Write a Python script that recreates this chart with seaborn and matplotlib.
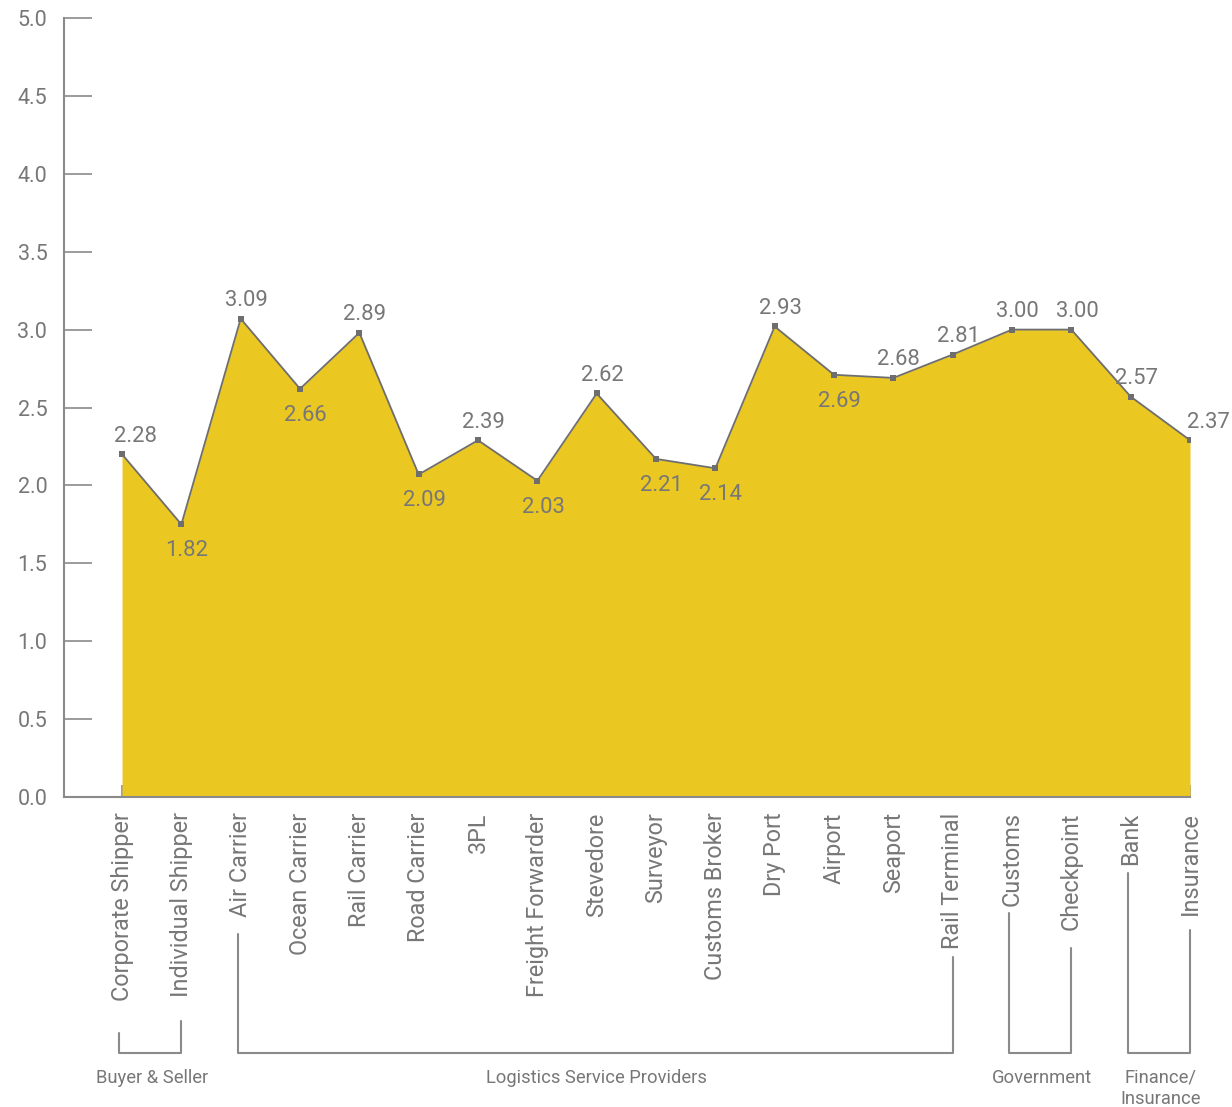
"""
plot.py - Stakeholder score profile (area chart with grouped category brackets)
"""

import matplotlib
matplotlib.use("Agg")
import matplotlib.pyplot as plt
import matplotlib.transforms as mtransforms
import numpy as np
import pandas as pd
import seaborn as sns

# Data
stakeholders = [
    "Corporate Shipper", "Individual Shipper", "Air Carrier", "Ocean Carrier",
    "Rail Carrier", "Road Carrier", "3PL", "Freight Forwarder", "Stevedore",
    "Surveyor", "Customs Broker", "Dry Port", "Airport", "Seaport",
    "Rail Terminal", "Customs", "Checkpoint", "Bank", "Insurance",
]
# plotted heights of the points
scores = [2.20, 1.75, 3.07, 2.62, 2.98, 2.07, 2.29, 2.03, 2.59, 2.17,
          2.11, 3.02, 2.71, 2.69, 2.84, 3.00, 3.00, 2.57, 2.29]
# the printed value labels
score_labels = ["2.28", "1.82", "3.09", "2.66", "2.89", "2.09", "2.39", "2.03",
                "2.62", "2.21", "2.14", "2.93", "2.69", "2.68", "2.81", "3.00",
                "3.00", "2.57", "2.37"]
# label placed above (True) or below (False) the point
label_above = [True, False, True, False, True, False, True, False, True, False,
               False, True, False, True, True, True, True, True, True]

group_names = ["Buyer & Seller", "Logistics Service Providers", "Government", "Finance/\nInsurance"]
group_first = [0, 2, 15, 17]
group_last = [1, 14, 16, 18]

# Styling
FILL = "#EBC722"
LINE = "#6E6E6E"
GREY = "#8A8A8A"
TEXT = "#777777"
W, H = 1232, 1107

sns.set_theme(style="white")
plt.rcParams["font.family"] = ["Roboto", "DejaVu Sans"]

df = pd.DataFrame({"pos": np.arange(len(stakeholders)), "score": scores})

fig = plt.figure(figsize=(W / 100, H / 100), dpi=100)
ax = fig.add_axes([64 / W, 1 - 797 / H, (1190 - 64) / W, 779 / H])

ax.fill_between(df["pos"], 0, df["score"], color=FILL, linewidth=0, zorder=1)
sns.lineplot(data=df, x="pos", y="score", ax=ax, color=LINE, linewidth=1.3,
             marker="s", markersize=5, markeredgewidth=0, zorder=3)

ax.set_xlim(-0.978, len(stakeholders) - 1)
ax.set_ylim(0, 5)
ax.set_xlabel("")
ax.set_ylabel("")

yt = np.arange(0, 5.01, 0.5)
ax.set_yticks(yt)
ax.set_yticklabels([f"{v:.1f}" for v in yt])
ax.set_xticks(df["pos"])
ax.set_xticklabels(stakeholders, rotation=90)

ax.tick_params(axis="y", direction="in", length=20, width=1.2, color=GREY,
               labelsize=15.5, labelcolor=TEXT, pad=12, left=True)
ax.tick_params(axis="x", direction="in", length=8.5, width=1.2, color=GREY,
               labelsize=16.8, labelcolor=TEXT, pad=11, bottom=True)

for side in ["top", "right"]:
    ax.spines[side].set_visible(False)
for side in ["left", "bottom"]:
    ax.spines[side].set_color(GREY)
    ax.spines[side].set_linewidth(1.5)

# value labels
n = len(stakeholders)
for i, (v, txt, up) in enumerate(zip(scores, score_labels, label_above)):
    dx = 4
    if i == 0:
        dx = 10
    elif i == n - 1:
        dx = 13
    dy = 13 if up else -19
    ax.annotate(txt, (i, v), xytext=(dx, dy), textcoords="offset points",
                ha="center", va="center", fontsize=15.8, color=TEXT, zorder=4)

# group brackets under the tick labels
trans = mtransforms.blended_transform_factory(ax.transData, fig.transFigure)
line_tops = {0: 1033, 1: 1021, 2: 934, 14: 957, 15: 913, 16: 948, 17: 873, 18: 930}
bracket_y = 1 - 1053 / H
for name, a, b in zip(group_names, group_first, group_last):
    xa, xb = a - 0.05, b
    ax.plot([xa, xa, xb, xb],
            [1 - line_tops[a] / H, bracket_y, bracket_y, 1 - line_tops[b] / H],
            transform=trans, color=GREY, linewidth=1.5, clip_on=False)
    ax.text((a + b) / 2, 1 - 1069 / H, name, transform=trans, ha="center",
            va="top", fontsize=13.2, color=TEXT, linespacing=1.2)

plt.savefig("out.png", dpi=100)
